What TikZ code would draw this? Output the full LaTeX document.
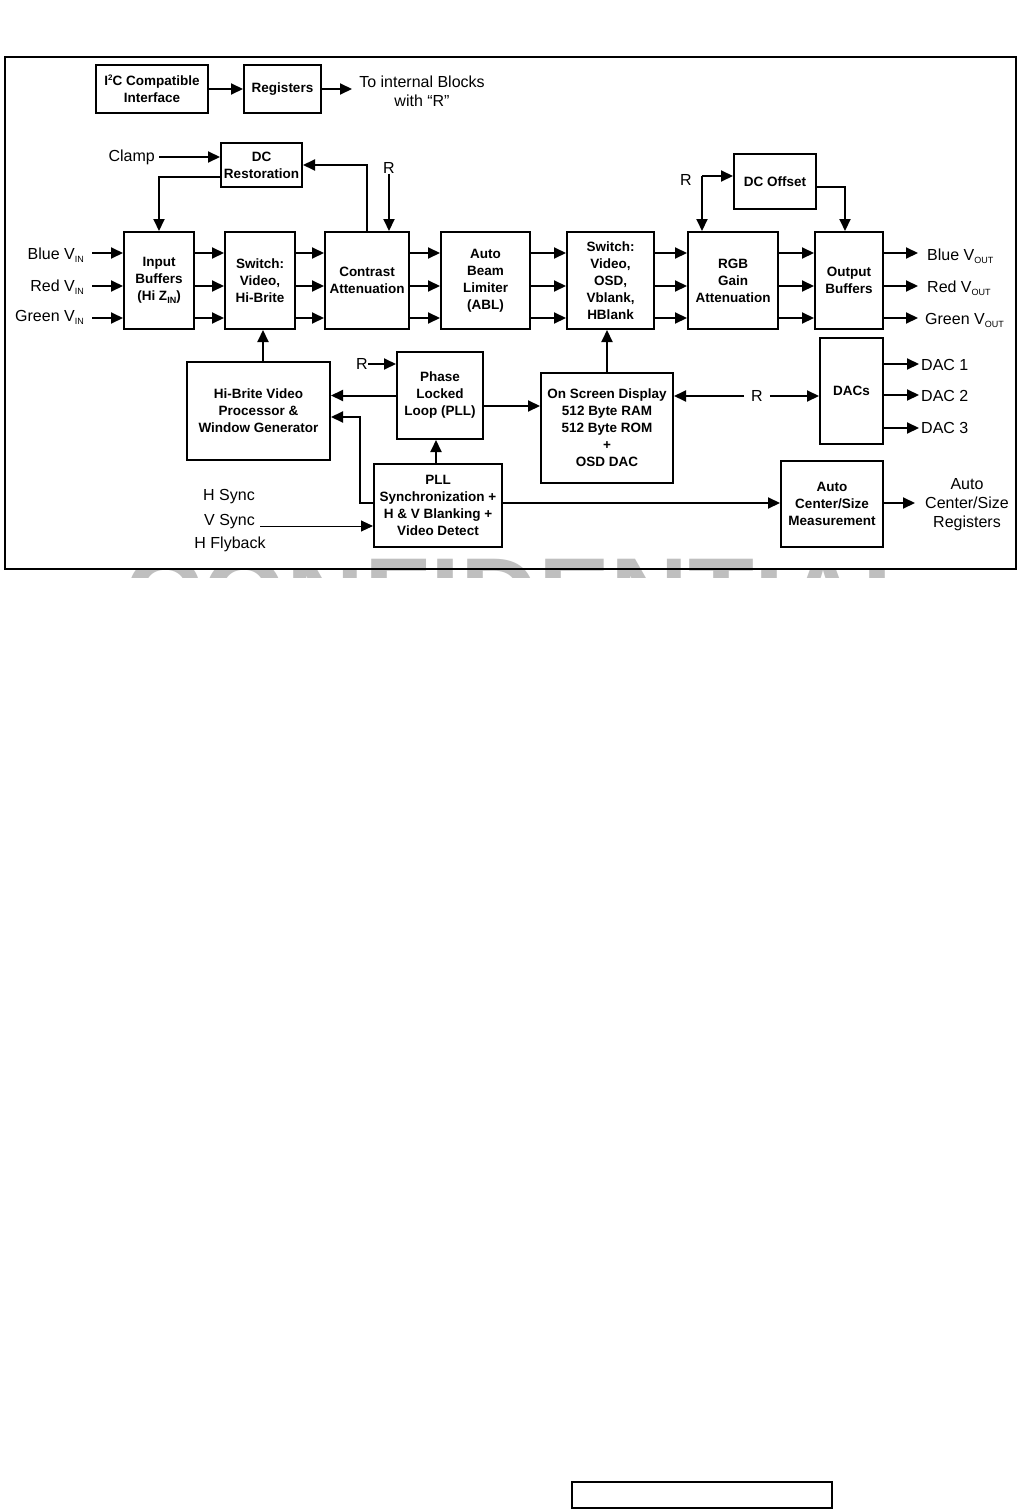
\documentclass[tikz,border=0pt]{standalone}
\usepackage{fontspec}
\setmainfont{Liberation Sans}
\usetikzlibrary{arrows.meta}
\newcommand{\subIN}{\raisebox{-3pt}{\fontsize{9}{9}\selectfont IN}}
\newcommand{\subOUT}{\raisebox{-3pt}{\fontsize{9}{9}\selectfont OUT}}
\begin{document}
\begin{tikzpicture}[x=1pt,y=-1pt,
  blk/.style={draw, line width=2pt, align=center, inner sep=0pt, font=\fontsize{13.5}{17}\selectfont\bfseries},
  lbl/.style={inner sep=0pt, font=\fontsize{16}{19}\selectfont, align=center},
  arr/.style={line width=2pt, -{Triangle[length=12pt,width=11pt]}},
  thinarr/.style={line width=1pt, -{Triangle[length=12pt,width=11pt]}},
]
\useasboundingbox (0,0) rectangle (1021,1509);
\fill[white] (0,0) rectangle (1021,1509);

% watermark (only its top is visible)
\begin{scope}
  \clip (365,549) rectangle (752,570) (0,569) rectangle (1021,577);
  \node[anchor=base west, inner sep=0pt, text=black!25, font=\fontsize{108}{108}\selectfont\bfseries] (wm) at (124,633) {CONFIDENTIAL};
\end{scope}

% frame
\draw[line width=2pt] (5,57) rectangle (1016,569);
% bottom empty box
\draw[line width=1.5pt] (572,1482) rectangle (832,1508);

% row coordinates
\coordinate (r1) at (0,253);
\coordinate (r2) at (0,286);
\coordinate (r3) at (0,318);

% blocks
\node[blk, minimum width=112pt, minimum height=48pt] (i2c) at (152,89) {I\raisebox{5pt}{\fontsize{8}{8}\selectfont 2}C Compatible\\Interface};
\node[blk, minimum width=77pt, minimum height=48pt] (reg) at (282.5,89) {Registers};
\node[blk, minimum width=81pt, minimum height=44pt] (dcr) at (261.5,165) {DC\\Restoration};
\node[blk, minimum width=70pt, minimum height=97pt] (inb) at (159,280.5) {Input\\Buffers\\(Hi Z\subIN)};
\node[blk, minimum width=70pt, minimum height=97pt] (swv) at (260,280.5) {Switch:\\Video,\\Hi-Brite};
\node[blk, minimum width=84pt, minimum height=97pt] (con) at (367,280.5) {Contrast\\Attenuation};
\node[blk, minimum width=89pt, minimum height=97pt] (abl) at (485.5,280.5) {Auto\\Beam\\Limiter\\(ABL)};
\node[blk, minimum width=87pt, minimum height=97pt] (sws) at (610.5,280.5) {Switch:\\Video,\\OSD,\\Vblank,\\HBlank};
\node[blk, minimum width=90pt, minimum height=97pt] (rgb) at (733,280.5) {RGB\\Gain\\Attenuation};
\node[blk, minimum width=68pt, minimum height=97pt] (outb) at (849,280.5) {Output\\Buffers};
\node[blk, minimum width=82pt, minimum height=55pt] (dco) at (775,181.5) {DC Offset};
\node[blk, minimum width=143pt, minimum height=98pt] (hbv) at (258.5,411) {Hi-Brite Video\\Processor \&\\Window Generator};
\node[blk, minimum width=86pt, minimum height=87pt] (pll) at (440,395.5) {Phase\\Locked\\Loop (PLL)};
\node[blk, minimum width=128pt, minimum height=83pt] (sync) at (438,505.5) {PLL\\Synchronization +\\H \& V Blanking +\\Video Detect};
\node[blk, minimum width=132pt, minimum height=110pt] (osd) at (607,428) {On Screen Display\\512 Byte RAM\\512 Byte ROM\\+\\OSD DAC};
\node[blk, minimum width=63pt, minimum height=106pt] (dacs) at (851.5,391) {DACs};
\node[blk, minimum width=102pt, minimum height=86pt] (acs) at (832,504) {Auto\\Center/Size\\Measurement};

% labels
\node[lbl] (toint) at (422,91) {To internal Blocks\\with “R”};
\node[lbl, anchor=east] (clamp) at (155,157) {Clamp};
\node[lbl] (R1) at (389,168) {R};
\node[lbl] (R2) at (362,364) {R};
\node[lbl] (R3) at (686,180) {R};
\node[lbl, inner xsep=7pt] (R4) at (757,396) {R};
\node[lbl, anchor=east] (bin) at (84,255) {Blue V\subIN};
\node[lbl, anchor=east] (rin) at (84,287) {Red V\subIN};
\node[lbl, anchor=east] (gin) at (84,317) {Green V\subIN};
\node[lbl, anchor=west] (bout) at (927,256) {Blue V\subOUT};
\node[lbl, anchor=west] (rout) at (927,288) {Red V\subOUT};
\node[lbl, anchor=west] (gout) at (925,320) {Green V\subOUT};
\node[lbl, anchor=west] (dac1) at (921,365) {DAC 1};
\node[lbl, anchor=west] (dac2) at (921,396) {DAC 2};
\node[lbl, anchor=west] (dac3) at (921,428) {DAC 3};
\node[lbl] (acsl) at (967,505) {Auto\\Center/Size\\Registers};
\node[lbl] (hsync) at (229,497) {H Sync};
\node[lbl] (vsync) at (229.5,522) {V Sync};
\node[lbl] (hfly) at (230,544) {H Flyback};

% free-end coordinates
\coordinate (tointa) at (352,89);
\coordinate (clampa) at (159,157);
\coordinate (rj) at (702,176);
\coordinate (sj) at (360,503);
\coordinate (acsa) at (915,503);
\coordinate (vsa) at (260,526);

% top connectors
\draw[arr] (i2c) -- (reg);
\draw[arr] (reg.east) -- (tointa);
\draw[arr] (clampa) -- (clampa -| dcr.west);
\draw[arr] ([yshift=-12pt]dcr.west) -| (inb.north);
\draw[arr] (con.north) |- (dcr.east);
\draw[arr] (R1.south) -- (R1.south |- con.north);
\draw[arr] (rj) -- (rj -| dco.west);
\draw[arr] (rj) -- (rj |- rgb.north);
\draw[arr] ([yshift=-5.5pt]dco.east) -| ([xshift=-4pt]outb.north);

% signal rows
\foreach \r in {r1, r2, r3}{
  \draw[arr] (92,0 |- \r) -- (inb.west |- \r);
  \draw[arr] (inb.east |- \r) -- (swv.west |- \r);
  \draw[arr] (swv.east |- \r) -- (con.west |- \r);
  \draw[arr] (con.east |- \r) -- (abl.west |- \r);
  \draw[arr] (abl.east |- \r) -- (sws.west |- \r);
  \draw[arr] (sws.east |- \r) -- (rgb.west |- \r);
  \draw[arr] (rgb.east |- \r) -- (outb.west |- \r);
  \draw[arr] (outb.east |- \r) -- (918,0 |- \r);
}

% lower connectors
\draw[arr] ([xshift=3pt]swv.south |- hbv.north) -- ([xshift=3pt]swv.south);
\draw[arr] (R2.east) -- (R2.east -| pll.west);
\draw[arr] (pll.west) -- (pll.west -| hbv.east);
\draw[arr] (sync.west |- sj) -- (sj) |- ([yshift=-6pt]hbv.east);
\draw[arr] ([xshift=-4pt]pll.south |- sync.north) -- ([xshift=-4pt]pll.south);
\draw[thinarr] (vsa) -- (vsa -| sync.west);
\draw[arr] ([yshift=-10.5pt]pll.east) -- ([yshift=-10.5pt]pll.east -| osd.west);
\draw[arr] (osd.north) -- (osd.north |- sws.south);
\draw[arr] (R4.west) -- (R4.west -| osd.east);
\draw[arr] (R4.east) -- (R4.east -| dacs.west);
\draw[arr] (dacs.east |- 0,364) -- (919,364);
\draw[arr] (dacs.east |- 0,395) -- (919,395);
\draw[arr] (dacs.east |- 0,428) -- (919,428);
\draw[arr] (sync.east |- sj) -- (acs.west |- sj);
\draw[arr] (acs.east |- sj) -- (acsa);
\end{tikzpicture}
\end{document}
